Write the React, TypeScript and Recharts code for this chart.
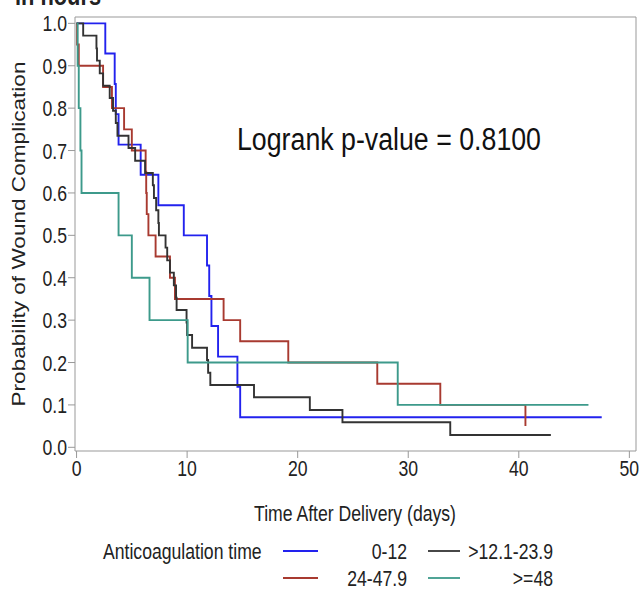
import { LineChart, Line, XAxis, YAxis, ReferenceLine } from 'recharts';

// Kaplan-Meier steps (time in days, survival probability)
const blueT = [0, 2.6, 3.45, 3.55, 3.8, 5.8, 7.4, 9.7, 11.8, 12.0, 12.2, 12.8, 14.55, 14.8, 47.5];
const blueS = [1, 0.929, 0.857, 0.786, 0.714, 0.643, 0.571, 0.5, 0.429, 0.357, 0.286, 0.214, 0.143, 0.071, 0.071];

const redT = [0, 0.05, 0.2, 2.4, 3.2, 4.3, 5.0, 6.25, 6.3, 6.35, 6.5, 7.15, 8.45, 8.9, 13.3, 14.8, 19.15, 27.2, 32.9, 40.6];
const redS = [1, 0.95, 0.9, 0.85, 0.8, 0.75, 0.7, 0.65, 0.6, 0.55, 0.5, 0.45, 0.4, 0.35, 0.3, 0.25, 0.2, 0.15, 0.1, 0.05];

const blackT = [0, 0.6, 1.8, 1.85, 2.1, 2.4, 3.0, 3.3, 3.55, 3.7, 4.7, 5.3, 6.2, 6.9, 7.0, 7.2, 7.4, 7.45, 8.05, 8.2, 8.45, 8.8, 9.0, 9.05, 9.95, 10.0, 10.45, 11.8, 11.9, 12.1, 16.05, 21.1, 24.05, 33.8, 42.9];
const blackS = [1, 0.971, 0.941, 0.912, 0.882, 0.853, 0.824, 0.794, 0.765, 0.735, 0.706, 0.676, 0.647, 0.618, 0.588, 0.559, 0.529, 0.5, 0.471, 0.441, 0.412, 0.382, 0.353, 0.324, 0.294, 0.265, 0.235, 0.206, 0.176, 0.147, 0.118, 0.088, 0.059, 0.029, 0.029];

const tealT = [0, 0.1, 0.2, 0.35, 0.45, 3.8, 5.0, 6.6, 10.05, 29.05, 46.3];
const tealS = [1, 0.9, 0.8, 0.7, 0.6, 0.5, 0.4, 0.3, 0.2, 0.1, 0.1];

const xTicks = [0, 10, 20, 30, 40, 50];
const yTicks = [0, 0.1, 0.2, 0.3, 0.4, 0.5, 0.6, 0.7, 0.8, 0.9, 1.0];

const toRows = (t: number[], s: number[]) => t.map((v, i) => ({ t: v, s: s[i] }));

const series = [
  { name: '0-12', color: '#2222ee', data: toRows(blueT, blueS) },
  { name: '24-47.9', color: '#a83a30', data: toRows(redT, redS) },
  { name: '>12.1-23.9', color: '#333333', data: toRows(blackT, blackS) },
  { name: '>=48', color: '#3d9a8b', data: toRows(tealT, tealS) },
];

const FONT = "'Liberation Sans', Arial, sans-serif";
const SQ = 0.78;
const FS = 22.6;
const TXT = '#222';

const SqText = ({ x, y, anchor = 'start', size = FS, weight = 'normal', children }: any) => (
  <g transform={`translate(${x},${y}) scale(${SQ},1)`}>
    <text textAnchor={anchor} fontSize={size} fontWeight={weight} fontFamily={FONT} fill={TXT}>
      {children}
    </text>
  </g>
);

const YTick = (props: any) => {
  const { x, y, payload } = props;
  return (
    <g transform={`translate(${x},${y}) scale(${SQ},1)`}>
      <text textAnchor="end" dy="0.36em" fontSize={FS} fontFamily={FONT} fill={TXT}>
        {Number(payload.value).toFixed(1)}
      </text>
    </g>
  );
};

const XTick = (props: any) => {
  const { x, y, payload } = props;
  return (
    <g transform={`translate(${x},${y}) scale(${SQ},1)`}>
      <text textAnchor="middle" dy="0.72em" fontSize={FS} fontFamily={FONT} fill={TXT}>
        {payload.value}
      </text>
    </g>
  );
};

const App = () => {
  const legendRows = [
    [series[0], series[2]],
    [series[1], series[3]],
  ];
  return (
    <div style={{ position: 'absolute', left: 0, top: 0, width: 639, height: 589, background: '#fff' }}>
      <LineChart width={639} height={589} margin={{ top: 17, right: 3, left: 0, bottom: 68 }}>
        <XAxis
          dataKey="t"
          type="number"
          domain={[-0.14, 50.6]}
          ticks={xTicks}
          interval={0}
          allowDataOverflow
          height={70}
          stroke="#999"
          tickSize={7}
          tickMargin={2}
          tick={<XTick />}
        />
        <YAxis
          type="number"
          domain={[-0.0087, 1.015]}
          ticks={yTicks}
          interval={0}
          allowDataOverflow
          width={75}
          stroke="#999"
          tickSize={7}
          tickMargin={1}
          tick={<YTick />}
        />
        <ReferenceLine y={1.015} stroke="#999" />
        <ReferenceLine x={50.6} stroke="#999" />
        {series.map((s) => (
          <Line
            key={s.name}
            name={s.name}
            data={s.data}
            dataKey="s"
            type="stepAfter"
            stroke={s.color}
            strokeWidth={1.9}
            dot={false}
            activeDot={false}
            isAnimationActive={false}
          />
        ))}
      </LineChart>
      <svg width={639} height={589} style={{ position: 'absolute', left: 0, top: 0, pointerEvents: 'none' }}>
        <SqText x={15} y={5} size={28} weight="bold">in hours</SqText>
        <text x={237} y={150} fontSize={31} fontFamily={FONT} fill="#111" textLength={304} lengthAdjust="spacingAndGlyphs">
          Logrank p-value = 0.8100
        </text>
        <g transform="translate(19,234) rotate(-90)">
          <text textAnchor="middle" dy="0.36em" fontSize={FS * SQ} fontFamily={FONT} fill={TXT} textLength={345} lengthAdjust="spacingAndGlyphs">
            Probability of Wound Complication
          </text>
        </g>
        <SqText x={355} y={521} anchor="middle">Time After Delivery (days)</SqText>
        <SqText x={103} y={559}>Anticoagulation time</SqText>
        {legendRows.map((row, r) => (
          <g key={r}>
            <line x1={283} x2={318} y1={551 + r * 27} y2={551 + r * 27} stroke={row[0].color} strokeWidth={1.8} />
            <SqText x={407} y={559 + r * 27} anchor="end">{row[0].name}</SqText>
            <line x1={428} x2={460} y1={551 + r * 27} y2={551 + r * 27} stroke={row[1].color} strokeWidth={1.8} />
            <SqText x={553} y={559 + r * 27} anchor="end">{row[1].name}</SqText>
          </g>
        ))}
      </svg>
    </div>
  );
};

export default App;
